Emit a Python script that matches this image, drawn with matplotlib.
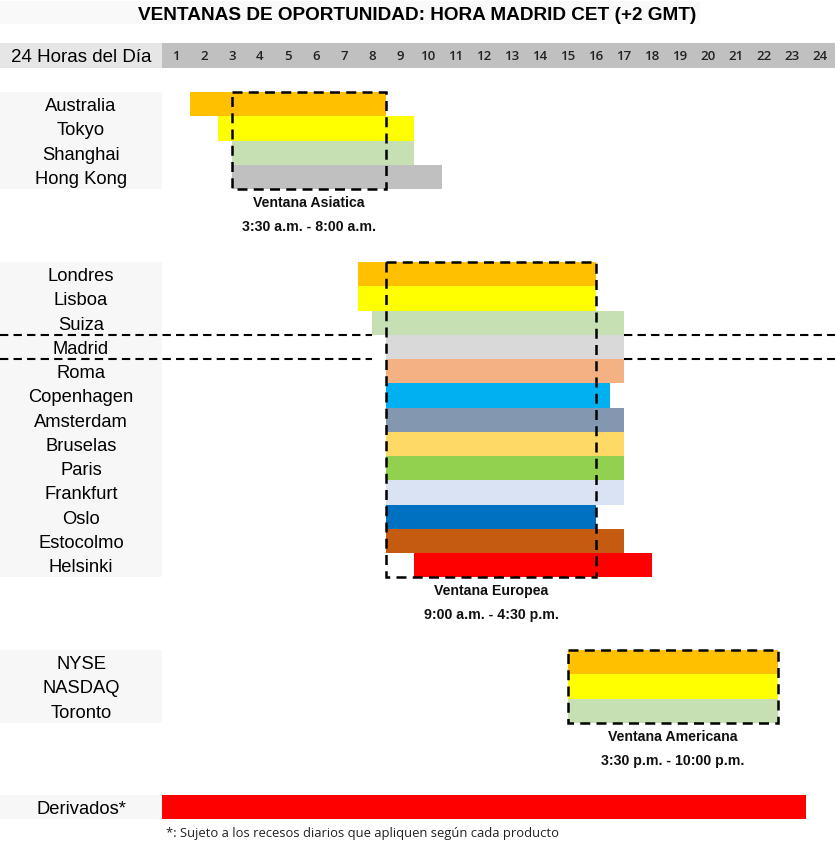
import matplotlib
matplotlib.use("Agg")
import matplotlib.pyplot as plt
from matplotlib.patches import Rectangle

# hours of the day shown in the header
hours = list(range(1, 25))

# market groups: names, start / end (in hour columns), colours
asia_names = ["Australia", "Tokyo", "Shanghai", "Hong Kong"]
asia_start = [1, 2, 2.5, 2.5]
asia_end = [8, 9, 9, 10]
asia_colors = ["#FFC000", "#FFFF00", "#C6E0B4", "#C0C0C0"]

euro_names = ["Londres", "Lisboa", "Suiza", "Madrid", "Roma", "Copenhagen", "Amsterdam",
              "Bruselas", "Paris", "Frankfurt", "Oslo", "Estocolmo", "Helsinki"]
euro_start = [7, 7, 7.5, 8, 8, 8, 8, 8, 8, 8, 8, 8, 9]
euro_end = [15.5, 15.5, 16.5, 16.5, 16.5, 16, 16.5, 16.5, 16.5, 16.5, 15.5, 16.5, 17.5]
euro_colors = ["#FFC000", "#FFFF00", "#C6E0B4", "#D9D9D9", "#F4B183", "#00B0F0", "#8497B0",
               "#FFD966", "#92D050", "#DAE3F3", "#0070C0", "#C55A11", "#FF0000"]

us_names = ["NYSE", "NASDAQ", "Toronto"]
us_start = [14.5, 14.5, 14.5]
us_end = [22, 22, 22]
us_colors = ["#FFC000", "#FFFF00", "#C6E0B4"]

deriv_names = ["Derivados*"]
deriv_start = [0]
deriv_end = [23]
deriv_colors = ["#FF0000"]

# trading windows (start, end, title, subtitle)
windows = [
    (2.5, 8, "Ventana Asiatica", "3:30 a.m. - 8:00 a.m."),
    (8, 15.5, "Ventana Europea", "9:00 a.m. - 4:30 p.m."),
    (14.5, 22, "Ventana Americana", "3:30 p.m. - 10:00 p.m."),
]

W, H = 835, 845
COL = 28.0      # pixel width of one hour column
X0 = 162.0      # left edge of hour 0
ROW = 24.25     # row height in pixels

fig = plt.figure(figsize=(W / 100, H / 100), dpi=100)
ax = fig.add_axes([0, 0, 1, 1])
ax.set_xlim(-X0 / COL, (W - X0) / COL)
ax.set_ylim(H, 0)
ax.axis("off")

def px(x):
    # pixel x -> hour units
    return (x - X0) / COL

lab_left = px(0)
lab_w = X0 / COL

# title
ax.add_patch(Rectangle((lab_left, 2), px(700) - lab_left, 23, color="#F9F9F9", lw=0))
ax.text(px(417), 15, "VENTANAS DE OPORTUNIDAD: HORA MADRID CET (+2 GMT)",
        ha="center", va="center", fontsize=13.7, fontweight="bold", family="Liberation Sans")

# header row
ax.add_patch(Rectangle((lab_left, 44), lab_w, 25, color="#E6E6E6", lw=0))
ax.add_patch(Rectangle((0, 44), px(W), 25, color="#C0C0C0", lw=0))
ax.text(px(81), 57, "24 Horas del Día", ha="center", va="center", fontsize=13.5,
        family="Liberation Sans")
for h in hours:
    ax.text(h - 0.5, 57, str(h), ha="center", va="center", fontsize=9.5,
            fontweight="semibold", family="Open Sans", color="#222222")

groups = [
    (93, asia_names, asia_start, asia_end, asia_colors),
    (263, euro_names, euro_start, euro_end, euro_colors),
    (651, us_names, us_start, us_end, us_colors),
    (796, deriv_names, deriv_start, deriv_end, deriv_colors),
]

for top, names, starts, ends, colors in groups:
    n = len(names)
    ax.add_patch(Rectangle((lab_left, top), lab_w, n * ROW, color="#F7F7F7", lw=0))
    ys = [top + (i + 0.5) * ROW for i in range(n)]
    widths = [e - s for s, e in zip(starts, ends)]
    ax.barh(ys, widths, left=starts, height=ROW, color=colors, lw=0)
    for y, name in zip(ys, names):
        ax.text(px(81), y + 1.5, name, ha="center", va="center", fontsize=13.2,
                family="Liberation Sans")

# dashed boxes for the windows
box_tops = [93, 263, 651]
box_rows = [len(asia_names), len(euro_names), len(us_names)]
for (s, e, t1, t2), top, n in zip(windows, box_tops, box_rows):
    ax.add_patch(Rectangle((s, top), e - s, n * ROW, fill=False, ls=(0, (4, 2.5)),
                           lw=1.8, ec="black"))
    bottom = top + n * ROW
    ax.text((s + e) / 2, bottom + 13, t1, ha="center", va="center", fontsize=10.2,
            fontweight="bold", family="Liberation Sans", color="#111111")
    ax.text((s + e) / 2, bottom + 37, t2, ha="center", va="center", fontsize=10.2,
            fontweight="bold", family="Liberation Sans", color="#111111")

# dashed lines marking Madrid row
madrid_i = euro_names.index("Madrid")
for y in [263 + madrid_i * ROW, 263 + (madrid_i + 1) * ROW]:
    ax.plot([lab_left, euro_start[2]], [y, y], color="black", lw=1.5, ls=(0, (4, 2.5)))
    ax.plot([euro_end[3], px(W)], [y, y], color="black", lw=1.5, ls=(0, (4, 2.5)))

# footnote
ax.text(px(166), 834, "*: Sujeto a los recesos diarios que apliquen según cada producto",
        ha="left", va="center", fontsize=9.4, family="Open Sans", color="#222222")

fig.savefig("out.png", dpi=100, facecolor="white")
